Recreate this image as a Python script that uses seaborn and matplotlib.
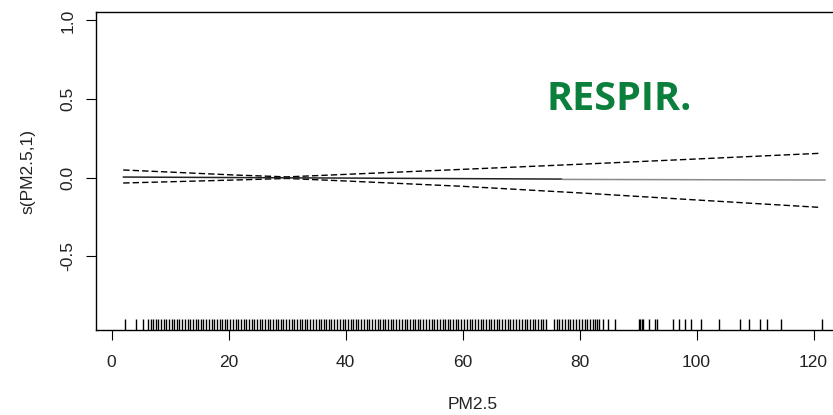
import matplotlib
matplotlib.use("Agg")
import matplotlib.pyplot as plt
import seaborn as sns
import numpy as np
import pandas as pd

# ---- data ----
fit_x_dark = [2, 77]
fit_y_dark = [0.003, -0.010]
fit_x_light = [77, 122]
fit_y_light = [-0.012, -0.016]

band_x = [2, 21, 30, 40, 60, 81, 100, 121]
upper_y = [0.048, 0.016, 0.004, 0.020, 0.052, 0.086, 0.118, 0.154]
lower_y = [-0.035, -0.016, -0.006, -0.022, -0.056, -0.100, -0.143, -0.190]

rug_x = [
    2.3, 4.2, 5.3,
    6.2, 6.7, 7.1, 7.6, 8.0, 8.5, 8.9, 9.4, 9.8,
    10.3, 10.7, 11.2, 11.6, 12.1, 12.5, 13.0, 13.5, 13.9, 14.4, 14.8, 15.3, 15.7,
    16.2, 16.6, 17.1, 17.6, 18.0, 18.5, 18.9, 19.4, 19.8,
    20.3, 20.8, 21.2, 21.7, 22.1, 22.6, 23.0, 23.5, 24.0, 24.4, 24.9, 25.3, 25.8,
    26.2, 26.7, 27.1, 27.6, 28.1, 28.5, 29.0, 29.4, 29.9,
    30.3, 30.8, 31.2, 31.7, 32.2, 32.6, 33.1, 33.5, 34.0, 34.4, 34.9, 35.4, 35.8,
    36.3, 36.7, 37.2, 37.6, 38.1, 38.6, 39.0, 39.5, 39.9,
    40.4, 40.9, 41.3, 41.8, 42.2, 42.7, 43.2, 43.6, 44.1, 44.5, 45.0, 45.5, 45.9,
    46.4, 46.8, 47.3, 47.8, 48.2, 48.7, 49.1, 49.6,
    50.1, 50.5, 51.0, 51.5, 51.9, 52.4, 52.8, 53.3, 53.8, 54.2, 54.7, 55.2, 55.6,
    56.1, 56.6, 57.0, 57.5, 57.9, 58.4, 58.9, 59.3, 59.8,
    60.3, 60.7, 61.2, 61.7, 62.1, 62.6, 63.1, 63.5, 64.0, 64.5, 64.9, 65.4, 65.9,
    66.3, 66.8, 67.3, 67.7, 68.2, 68.7, 69.1, 69.6,
    70.1, 70.6, 71.0, 71.5, 72.0, 72.4, 72.9, 73.4, 73.8, 74.3, 75.6, 76.1, 76.5,
    77.0, 77.5, 78.0, 78.4, 78.9, 79.4, 79.9,
    80.4, 80.9, 81.3, 81.8, 82.3, 82.6, 83.0, 83.4, 84.0, 84.8, 86.0,
    90.1, 90.3, 90.6, 90.9, 91.8, 92.9, 93.3,
    96.0, 97.0, 98.0, 99.1, 100.7, 103.9, 107.4, 109.0, 110.9, 112.0, 114.4, 121.4,
]

x_ticks = [0, 20, 40, 60, 80, 100, 120]
y_ticks = [-0.5, 0.0, 0.5, 1.0]
y_tick_labels = ["-0.5", "0.0", "0.5", "1.0"]

title_text = "RESPIR."
x_label = "PM2.5"
y_label = "s(PM2.5,1)"

# ---- figure ----
sns.set_style("white")
plt.rcParams["font.family"] = ["Liberation Sans", "DejaVu Sans"]

W, H = 833, 415
fig = plt.figure(figsize=(W / 100, H / 100), dpi=100)
L, R, T, B = 96, 853, 12, 330
ax = fig.add_axes([L / W, 1 - B / H, (R - L) / W, (B - T) / H])

dash = (4.6, 2.2)
up_df = pd.DataFrame({"x": band_x, "y": upper_y})
lo_df = pd.DataFrame({"x": band_x, "y": lower_y})
sns.lineplot(data=up_df, x="x", y="y", ax=ax, color="black", lw=1.0,
             estimator=None, sort=False).lines[-1].set_dashes(dash)
sns.lineplot(data=lo_df, x="x", y="y", ax=ax, color="black", lw=1.0,
             estimator=None, sort=False).lines[-1].set_dashes(dash)
sns.lineplot(x=fit_x_dark, y=fit_y_dark, ax=ax, color="#222222", lw=1.1, estimator=None)
sns.lineplot(x=fit_x_light, y=fit_y_light, ax=ax, color="#8a8a8a", lw=1.1, estimator=None)

sns.rugplot(x=rug_x, ax=ax, height=11 / 318, color="black", lw=0.9, expand_margins=False)

ax.set_xlim(-2.65, 126.75)
ax.set_ylim(-0.971, 1.054)

ax.set_xticks(x_ticks)
ax.set_xticklabels([str(v) for v in x_ticks])
ax.set_yticks(y_ticks)
ax.set_yticklabels(y_tick_labels, rotation=90, va="center")

ax.tick_params(axis="both", direction="out", length=7.2, width=0.8, color="black",
               labelsize=12.5, labelcolor="#222222", bottom=True, left=True)
ax.tick_params(axis="x", pad=11)
ax.tick_params(axis="y", pad=7.5)

for s in ["left", "bottom", "top"]:
    ax.spines[s].set_color("black")
    ax.spines[s].set_linewidth(1.0)
ax.spines["right"].set_visible(False)

ax.set_xlabel("")
ax.set_ylabel("")
fig.text(473 / W, 1 - 404 / H, x_label, ha="center", va="center", fontsize=12.5, color="#222222")
fig.text(28 / W, 1 - 171 / H, y_label, ha="center", va="center", rotation=90,
         fontsize=12.5, color="#222222")

fig.text(546 / W, 1 - 110 / H, title_text, ha="left", va="baseline",
         fontsize=28.5, fontweight="bold", color="#0B7F3C",
         family=["Open Sans", "DejaVu Sans"])

fig.savefig("out.png", dpi=100)
